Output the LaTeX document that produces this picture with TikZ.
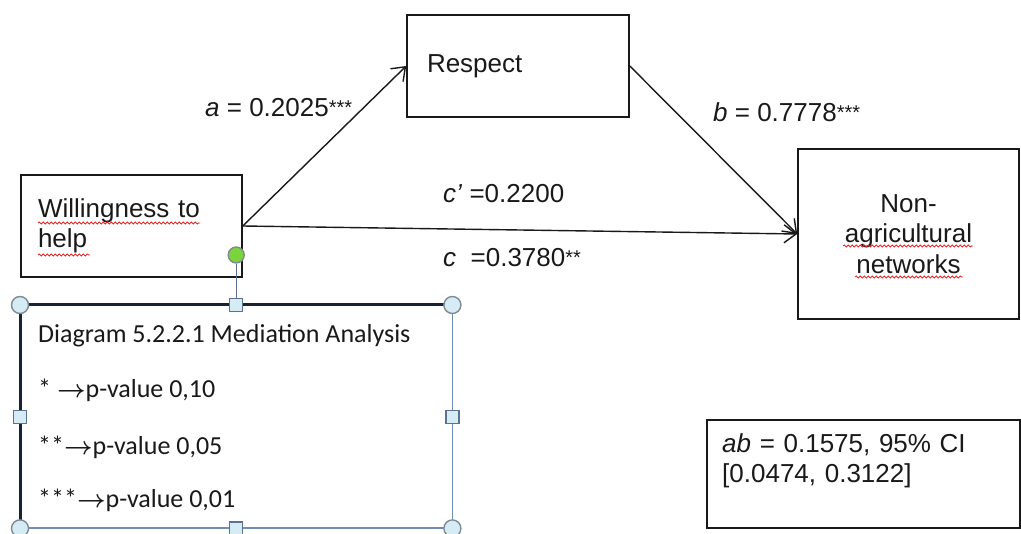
\documentclass[tikz,border=0pt]{standalone}
\usepackage{fontspec}
\setmainfont{Liberation Sans}
\newfontfamily\calfont{Carlito}
\usepackage{tikz}
\usetikzlibrary{positioning,arrows.meta,decorations.pathmorphing}
\definecolor{txtBlack}{RGB}{25,25,25}
\definecolor{selDark}{RGB}{22,34,54}
\definecolor{selLine}{RGB}{112,142,180}
\definecolor{selEdge}{RGB}{128,138,148}
\definecolor{selFill}{RGB}{214,236,244}
\definecolor{rotGreen}{RGB}{124,212,60}
\definecolor{spellRed}{RGB}{232,40,40}
\newcommand{\stars}[1]{\raisebox{2.5pt}{\fontsize{20}{20}\selectfont #1}}
\newcommand{\parrow}{{\boldmath$\rightarrow$}}
\tikzset{
  var/.style={rectangle, draw=txtBlack, line width=1.6pt, minimum width=221pt,
              minimum height=102pt, inner sep=0pt, text=txtBlack,
              font=\fontsize{26}{30.5}\selectfont},
  lbl/.style={font=\fontsize{26}{30.5}\selectfont, text=txtBlack, inner sep=0pt,
              anchor=base west},
  flow/.style={-{Straight Barb[length=12pt,width=18pt,line width=1.4pt]},
               draw=txtBlack, line width=1.4pt},
  squig/.style={draw=spellRed, line width=0.8pt, decorate,
                decoration={snake, amplitude=1.1pt, segment length=4pt}},
  frameDark/.style={draw=selDark, line width=3pt, line cap=butt},
  frameLight/.style={draw=selLine, line width=1.8pt},
  handle/.style={circle, draw=selEdge, fill=selFill, line width=1.4pt,
                 minimum size=17pt, inner sep=0pt},
  hsq/.style={rectangle, draw=selLine!80!black, fill=selFill, line width=1.3pt,
              minimum size=13pt, inner sep=0pt},
  legtxt/.style={font=\calfont\fontsize{26}{30}\selectfont, text=txtBlack,
                 inner sep=0pt, anchor=base west},
}

\begin{document}
\begin{tikzpicture}[x=1pt, y=-1pt]
  \useasboundingbox (0,0) rectangle (1021,534);
  % variables
  \node[var, text width=187pt, align=left] (will) at (131.5,226)
    {Willingness to\\help};
  \node[var, minimum width=222pt, text width=182pt, align=left] (resp) at (518,66)
    {Respect};
  \node[var, minimum height=170pt, text width=180pt, align=center] (netw) at (908.5,234)
    {Non-\\agricultural\\networks};
  % spelling marks
  \foreach \xa/\xb/\yy in {38/200/223, 38/90/255, 843/973/246, 855/963/277}
    \draw[squig] (\xa,\yy) -- (\xb,\yy);
  % paths
  \draw[flow] (will.east) -- (resp.west);
  \draw[flow] (will.east) -- (netw.west);
  \draw[flow] (resp.east) -- (netw.west);
  % coefficients
  \node[lbl] (la) at (205,117) {\textit{a} = 0.2025\stars{***}};
  \node[lbl] (lb) at (713,122) {\textit{b} = 0.7778\stars{***}};
  \node[lbl] (lcp) at (443,203) {\textit{c'} =0.2200};
  \node[lbl] (lc) at (443,267) {\textit{c}\ \ =0.3780\stars{**}};
  % indirect effect
  \node[rectangle, draw=txtBlack, line width=1.6pt, minimum width=313pt,
        minimum height=108pt, anchor=north west] (abbox) at (706,419) {};
  \node[lbl, anchor=north west, align=left, text width=280pt] (abtxt) at (722,433)
    {\textit{ab} = 0.1575, 95\% CI\\{[0.0474, 0.3122]}};
  % selected text box
  \node[rectangle, minimum width=432pt, minimum height=223pt, inner sep=0pt,
        anchor=north west] (leg) at (20,305) {};
  \draw[frameLight] (leg.north east) -- (leg.south east) -- (leg.south west);
  \draw[frameDark] (leg.south west) -- (leg.north west) -- (leg.north east);
  \foreach \yy/\txt in {343/{Diagram 5.2.2.1 Mediation Analysis},
                        398/{* \parrow p-value 0,10},
                        455/{**\parrow p-value 0,05},
                        508/{***\parrow p-value 0,01}}
    \node[legtxt] (leg\yy) at (38,\yy) {\txt};
  % handles
  \foreach \a/\n in {north west/nw, north east/ne, south west/sw, south east/se}
    \node[handle] (h\n) at (leg.\a) {};
  \foreach \a in {north, south, west, east}
    \node[hsq] (h\a) at (leg.\a) {};
  \node[handle, fill=rotGreen, minimum size=16pt] (hrot) at ([yshift=50pt]leg.north) {};
  \draw[selLine!80!black, line width=1.3pt] (hrot) -- (hnorth);
\end{tikzpicture}
\end{document}
